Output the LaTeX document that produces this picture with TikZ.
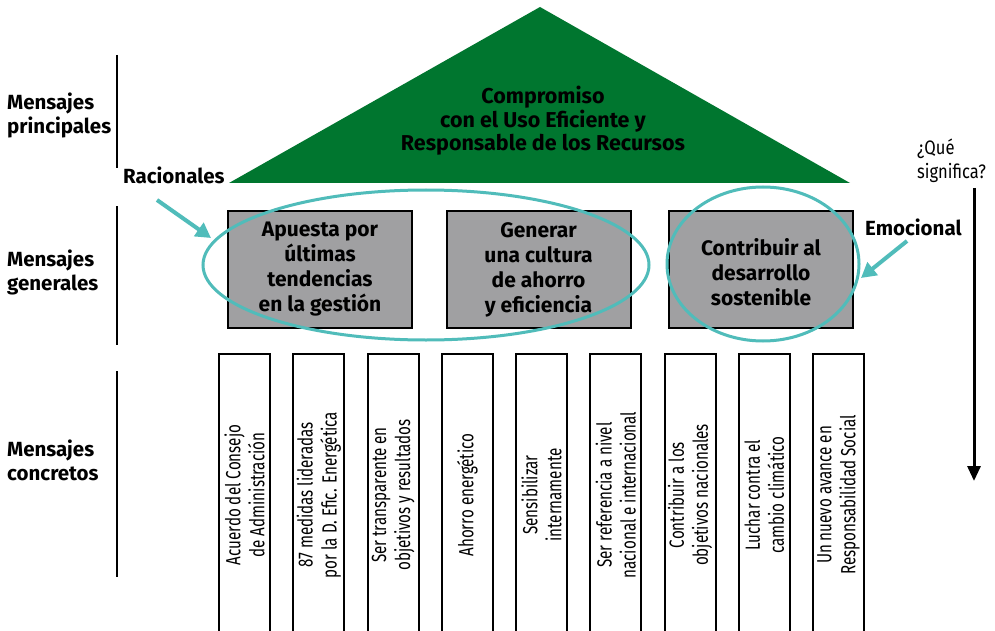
\documentclass[tikz,border=0pt]{standalone}
\usepackage{fontspec}
\setmainfont{Fira Sans}
\newfontfamily\condfont{Fira Sans}[FakeStretch=0.74]
\newfontfamily\qfont{Fira Sans}[FakeStretch=0.85]
\usetikzlibrary{arrows.meta,shapes.geometric}
\definecolor{hgreen}{RGB}{0,118,47}
\definecolor{hteal}{RGB}{80,188,186}
\definecolor{hgray}{RGB}{160,160,162}
\begin{document}
\begin{tikzpicture}[x=1pt,y=-1pt,
  lbl/.style={font=\fontsize{20.5}{24}\selectfont\bfseries, align=left, anchor=west, inner sep=0pt},
  gbox/.style={draw=black, line width=2pt, fill=hgray, minimum width=184pt, minimum height=117pt, inner sep=0pt},
  gtext/.style={font=\fontsize{21}{25}\selectfont\bfseries, align=center, inner sep=0pt},
  pillarbox/.style={draw=black, line width=2pt, minimum width=51pt, minimum height=300pt, inner sep=0pt, anchor=north},
  ptext/.style={font=\condfont\fontsize{20.5}{24}\selectfont, align=center, rotate=90, inner sep=0pt},
  sideline/.style={line width=1.6pt, black},
  ring/.style={draw=hteal, line width=3pt},
  tealarrow/.style={draw=hteal, line width=4pt, -{Triangle[length=15pt,width=16pt]}},
  downarrow/.style={line width=3pt, -{Triangle[length=15pt,width=13pt]}}
]
\useasboundingbox (0,0) rectangle (995,631);
\clip (0,0) rectangle (995,631);
\fill[white] (0,0) rectangle (995,631);

% left labels and lines
\node[lbl] (lp) at (7,115) {Mensajes\\principales};
\node[lbl] (lg) at (7,272.5) {Mensajes\\generales};
\node[lbl] (lc) at (7,460.5) {Mensajes\\concretos};
\coordinate (s1a) at (117,55);  \coordinate (s1b) at (117,168);
\coordinate (s2a) at (117,206); \coordinate (s2b) at (117,345);
\coordinate (s3a) at (117,371); \coordinate (s3b) at (117,577);
\draw[sideline] (s1a) -- (s1b);
\draw[sideline] (s2a) -- (s2b);
\draw[sideline] (s3a) -- (s3b);

% roof
\coordinate (rl) at (229,183);
\coordinate (rt) at (540,7);
\coordinate (rr) at (850,183);
\fill[hgreen] (rl) -- (rt) -- (rr) -- cycle;
\node[font=\fontsize{21.5}{23.5}\selectfont\bfseries, align=center, inner sep=0pt] (roof) at (543,121)
  {Compromiso\\con el Uso Eficiente y\\Responsable de los Recursos};

% general boxes
\node[gbox] (b1) at (320,269.5) {};
\node[gbox] (b2) at (538.5,269.5) {};
\node[gbox] (b3) at (761,269.5) {};
\node[gtext] (t1) at (b1.center) {Apuesta por\\últimas\\tendencias\\en la gestión};
\node[gtext] (t2) at (b2.center) {Generar\\una cultura\\de ahorro\\y eficiencia};
\node[gtext] (t3) at (761,272) {Contribuir al\\desarrollo\\sostenible};

% rings
\node[ring, ellipse, minimum width=446pt, minimum height=150pt, inner sep=0pt] (e1) at (426,265) {};
\node[ring, ellipse, minimum width=192pt, minimum height=154pt, inner sep=0pt] (e2) at (763,264) {};

% labels with arrows
\node[lbl] (rac) at (123,175) {Racionales};
\node[lbl] (emo) at (865,227) {Emocional};
\coordinate (ra) at (157,200);
\coordinate (rb) at (211,238);
\coordinate (ea) at (907,241);
\coordinate (eb) at (861,278);
\draw[tealarrow] (ra) -- (rb);
\draw[tealarrow] (ea) -- (eb);

% question + arrow
\node[font=\qfont\fontsize{19.5}{24}\selectfont, align=left, anchor=west, inner sep=0pt] (q) at (917,160.5) {¿Qué\\significa?};
\coordinate (da) at (974,188);
\coordinate (db) at (974,481);
\draw[downarrow] (da) -- (db);

% pillars
\foreach \i/\txt in {0/{Acuerdo del Consejo\\de Administración},
                     1/{87 medidas lideradas\\por la D. Efic. Energética},
                     2/{Ser transparente en\\objetivos y resultados},
                     3/{Ahorro energético},
                     4/{Sensibilizar\\internamente},
                     5/{Ser referencia a nivel\\nacional e internacional},
                     6/{Contribuir a los\\objetivos nacionales},
                     7/{Luchar contra el\\cambio climático},
                     8/{Un nuevo avance en\\Responsabilidad Social}}{
  \node[pillarbox] (p\i) at ({244.5+74.25*\i},353) {};
  \node[ptext] (pt\i) at ({244.5+74.25*\i},495) {\txt};
}
\end{tikzpicture}
\end{document}
